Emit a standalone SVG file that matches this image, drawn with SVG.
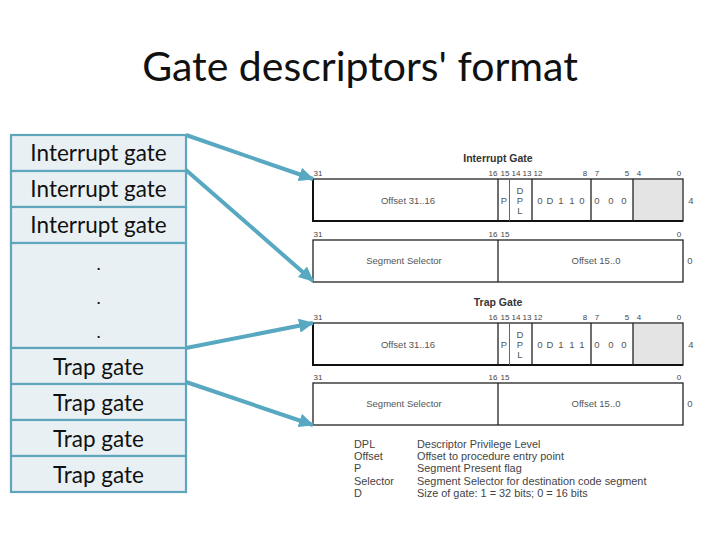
<svg xmlns="http://www.w3.org/2000/svg" width="720" height="540" viewBox="0 0 720 540">
<style>
.title{font:41px Lato,"Open Sans",sans-serif;fill:#111;text-anchor:middle}
.cell{fill:#e9f0f4;stroke:#5fa6bd;stroke-width:2.2}
.lbl{font:22.5px Lato,"Open Sans",sans-serif;fill:#111;text-anchor:middle}
.dot{font:18px Lato,"Open Sans",sans-serif;fill:#111;text-anchor:middle}
.reg{fill:#fff;stroke:#222;stroke-width:1.3}
.heavy{stroke:#111;stroke-width:2;fill:none}
.v{stroke:#222;stroke-width:1.3}
.thin{stroke:#666;stroke-width:1}
.gray{fill:#e4e4e4;stroke:none}
.h{font:bold 10.500px "Liberation Sans",Arial,sans-serif;fill:#333;text-anchor:middle}
.s{font:8px "Liberation Sans",Arial,sans-serif;fill:#444;text-anchor:middle}
.f{font:9.500px "Liberation Sans",Arial,sans-serif;fill:#555;text-anchor:middle}
.k{font:10.900px "Liberation Sans",Arial,sans-serif;fill:#444}
.conn{stroke:#57a8c0;stroke-width:4;fill:none;marker-end:url(#ah)}
</style>
<defs>
<marker id="ah" markerUnits="userSpaceOnUse" markerWidth="15" markerHeight="14" refX="14" refY="7" orient="auto"><path d="M0 0L15 7L0 14Z" fill="#57a8c0"/></marker>
<g id="regA">
<rect class="reg" x="313" y="0" width="370" height="42"/>
<rect class="gray" x="633" y="1" width="49" height="40"/>
<path class="heavy" d="M313 0V42H683"/>
<path class="v" d="M498 0V42M532 0V42M591 0V42M633 0V42"/><path class="thin" d="M509.500 0V42"/>
<g class="s"><text x="318" y="-3.500">31</text><text x="493" y="-3.500">16</text><text x="505" y="-3.500">15</text><text x="516" y="-3.500">14</text><text x="527" y="-3.500">13</text><text x="538" y="-3.500">12</text><text x="585" y="-3.500">8</text><text x="597" y="-3.500">7</text><text x="627" y="-3.500">5</text><text x="639" y="-3.500">4</text><text x="679" y="-3.500">0</text></g>
<text class="f" x="408" y="25">Offset 31..16</text>
<text class="f" x="504" y="25">P</text>
<text class="f" x="520" y="15">D</text><text class="f" x="520" y="25">P</text><text class="f" x="520" y="35">L</text>
<text class="f" x="597" y="25">0</text><text class="f" x="611" y="25">0</text><text class="f" x="624" y="25">0</text>
<text class="f" x="691" y="25">4</text>
</g>
<g id="regB">
<rect class="reg" x="313" y="0" width="370" height="42"/>
<path class="v" d="M498 0V42"/>
<g class="s"><text x="318" y="-3.500">31</text><text x="493" y="-3.500">16</text><text x="505" y="-3.500">15</text><text x="679" y="-3.500">0</text></g>
<text class="f" x="404" y="24">Segment Selector</text>
<text class="f" x="596" y="24">Offset 15..0</text>
<text class="f" x="690" y="24">0</text>
</g>
</defs>
<rect width="720" height="540" fill="#fff"/>
<text class="title" x="360" y="81">Gate descriptors' format</text>
<g id="table">
<g id="n1"><rect class="cell" x="11" y="135" width="175" height="36"/><text class="lbl" x="98.500" y="161">Interrupt gate</text></g>
<g id="n2"><rect class="cell" x="11" y="171" width="175" height="36"/><text class="lbl" x="98.500" y="197">Interrupt gate</text></g>
<g id="n3"><rect class="cell" x="11" y="207" width="175" height="36"/><text class="lbl" x="98.500" y="233">Interrupt gate</text></g>
<g id="n4"><rect class="cell" x="11" y="243" width="175" height="105"/>
<text class="dot" x="98.500" y="270">.</text><text class="dot" x="98.500" y="304">.</text><text class="dot" x="98.500" y="338">.</text></g>
<g id="n5"><rect class="cell" x="11" y="348" width="175" height="36"/><text class="lbl" x="98.500" y="374.500">Trap gate</text></g>
<g id="n6"><rect class="cell" x="11" y="384" width="175" height="36"/><text class="lbl" x="98.500" y="410.500">Trap gate</text></g>
<g id="n7"><rect class="cell" x="11" y="420" width="175" height="36"/><text class="lbl" x="98.500" y="446.500">Trap gate</text></g>
<g id="n8"><rect class="cell" x="11" y="456" width="175" height="36"/><text class="lbl" x="98.500" y="482.500">Trap gate</text></g>
</g>
<g id="interrupt-gate">
<text class="h" x="498" y="162">Interrupt Gate</text>
<use href="#regA" y="179"/>
<g class="f"><text x="540" y="204">0</text><text x="550" y="204">D</text><text x="561" y="204">1</text><text x="572" y="204">1</text><text x="582" y="204">0</text></g>
<use href="#regB" y="240"/>
</g>
<g id="trap-gate">
<text class="h" x="498" y="306">Trap Gate</text>
<use href="#regA" y="323"/>
<g class="f"><text x="540" y="348">0</text><text x="550" y="348">D</text><text x="561" y="348">1</text><text x="572" y="348">1</text><text x="582" y="348">1</text></g>
<use href="#regB" y="383"/>
</g>
<g id="legend" class="k">
<text x="354" y="448">DPL</text><text x="417" y="448">Descriptor Privilege Level</text>
<text x="354" y="460">Offset</text><text x="417" y="460">Offset to procedure entry point</text>
<text x="354" y="472">P</text><text x="417" y="472">Segment Present flag</text>
<text x="354" y="485">Selector</text><text x="417" y="485">Segment Selector for destination code segment</text>
<text x="354" y="497">D</text><text x="417" y="497">Size of gate: 1 = 32 bits; 0 = 16 bits</text>
</g>
<g id="connectors">
<path class="conn" d="M186 135L313 179"/>
<path class="conn" d="M186 170L313 281"/>
<path class="conn" d="M186 348L313 323"/>
<path class="conn" d="M186 382L313 425"/>
</g>
</svg>
